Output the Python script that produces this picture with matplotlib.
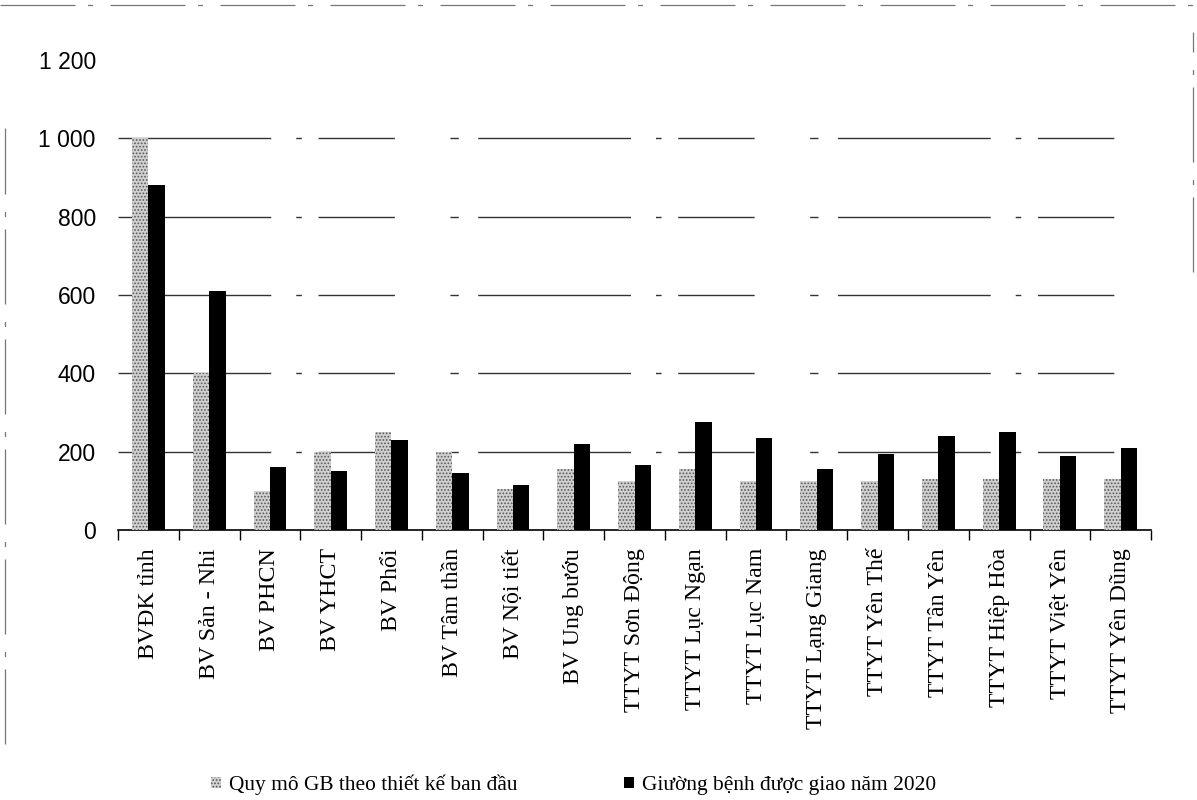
import matplotlib

matplotlib.use("Agg")
import matplotlib.pyplot as plt
import numpy as np
from matplotlib.lines import Line2D
from matplotlib.ticker import FixedLocator, FuncFormatter

categories = [
    "BVĐK tỉnh", "BV Sản - Nhi", "BV PHCN", "BV YHCT", "BV Phổi",
    "BV Tâm thần", "BV Nội tiết", "BV Ung bướu", "TTYT Sơn Động",
    "TTYT Lục Ngạn", "TTYT Lục Nam", "TTYT Lạng Giang", "TTYT Yên Thế",
    "TTYT Tân Yên", "TTYT Hiệp Hòa", "TTYT Việt Yên", "TTYT Yên Dũng",
]
design_beds = [1000, 400, 100, 200, 250, 200, 105, 155, 125, 155, 125, 125, 125, 130, 130, 130, 130]
assigned_2020 = [880, 610, 160, 150, 230, 145, 115, 220, 165, 275, 235, 155, 195, 240, 250, 190, 210]

label_design = "Quy mô GB theo thiết kế ban đầu"
label_assigned = "Giường bệnh được giao năm 2020"

SERIF = "Liberation Serif"
SANS = "Liberation Sans"
plt.rcParams["hatch.linewidth"] = 0.8

fig = plt.figure(figsize=(11.97, 8.0), dpi=100)
ax = fig.add_axes([0.0986, 0.3375, 0.8630, 0.5875])

x = np.arange(len(categories))
w = 0.27
ax.bar(x - w / 2, design_beds, width=w, color="#d0d0d0", edgecolor="#595959",
       hatch=".....", linewidth=0, label=label_design, zorder=3)
ax.bar(x + w / 2, assigned_2020, width=w, color="black", linewidth=0,
       label=label_assigned, zorder=3)

ax.set_xlim(-0.5, len(categories) - 0.5)
ax.set_ylim(0, 1200)
ax.yaxis.set_major_locator(FixedLocator(range(0, 1201, 200)))
ax.yaxis.set_major_formatter(FuncFormatter(lambda v, _: f"{int(v):,}".replace(",", " ")))

# broken-looking grid lines
for yv in range(200, 1001, 200):
    ax.axhline(yv, color="#333333", linewidth=1.0,
               dashes=(110, 18, 4, 12, 55, 40, 6, 14), dash_capstyle="butt", zorder=1)

ax.set_xticks(x)
ax.set_xticklabels(categories, rotation=90, fontfamily=SERIF, fontsize=17.2)
ax.set_xticks(np.arange(-0.5, len(categories), 1.0), minor=True)
ax.tick_params(axis="x", which="major", length=0, pad=13)
ax.tick_params(axis="x", which="minor", length=7, width=1, direction="out")
ax.tick_params(axis="y", length=0, pad=16, labelsize=16.5)
for lab in ax.get_yticklabels():
    lab.set_fontfamily(SANS)

for side in ("top", "right", "left"):
    ax.spines[side].set_visible(False)
ax.spines["bottom"].set_linewidth(1.2)

fig.legend(loc="center", bbox_to_anchor=(0.479, 0.019), ncol=2, frameon=False,
           prop={"family": SERIF, "size": 15.4}, handlelength=0.47,
           handleheight=0.47, handletextpad=0.35, columnspacing=5.0)

# outer chart frame
frame_kw = dict(color="#777777", linewidth=0.9, dashes=(60, 10, 4, 14), transform=fig.transFigure)
fig.add_artist(Line2D([0.0, 1.0], [0.994, 0.994], **frame_kw))
fig.add_artist(Line2D([0.004, 0.004], [0.07, 0.84], **frame_kw))
fig.add_artist(Line2D([0.997, 0.997], [0.66, 0.96], **frame_kw))

fig.savefig("out.png", dpi=100)
plt.close(fig)
